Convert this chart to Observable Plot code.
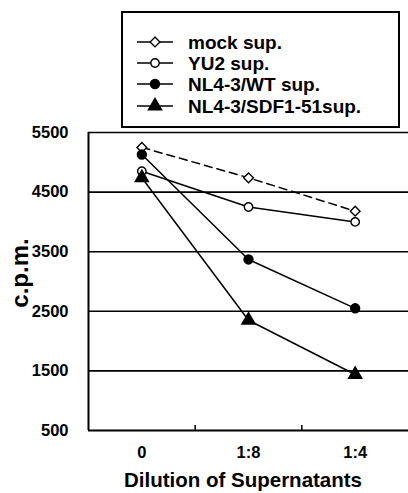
<!DOCTYPE html>
<html><head><meta charset="utf-8">
<script src="https://cdn.jsdelivr.net/npm/d3@7"></script>
<script src="https://cdn.jsdelivr.net/npm/@observablehq/plot@0.6"></script>
<style>
html,body{margin:0;padding:0;background:#fff;}
#wrap{position:relative;width:408px;height:493px;font-family:"Liberation Sans",Arial,sans-serif;}
#wrap svg{position:absolute;left:0;top:0;}
</style></head>
<body><div id="wrap"></div>
<script>
const dilutions = ["0", "1:8", "1:4"];
const seriesNames = ["mock sup.", "YU2 sup.", "NL4-3/WT sup.", "NL4-3/SDF1-51sup."];
const mockValues = [5250, 4740, 4180];
const yu2Values = [4850, 4250, 4000];
const wtValues = [5130, 3370, 2550];
const sdfValues = [4740, 2350, 1440];
const yTicks = [500, 1500, 2500, 3500, 4500, 5500];

const styles = [
  {symbol: "diamond2", fill: "white", r: 4.4, dash: "8,5"},
  {symbol: "circle", fill: "white", r: 4.2, dash: null},
  {symbol: "circle", fill: "black", r: 4.5, dash: null},
  {symbol: "triangle", fill: "black", r: 4.9, dash: null}
];
const allValues = [mockValues, yu2Values, wtValues, sdfValues];
const data = [];
allValues.forEach((vals, s) => vals.forEach((v, i) => data.push({series: s, name: seriesNames[s], pos: i + 0.5, value: v})));
const font = "Liberation Sans, Arial, sans-serif";

const marks = [
  Plot.gridY(yTicks.slice(1), {stroke: "black", strokeOpacity: 1, strokeWidth: 1.6}),
  Plot.ruleY([500], {stroke: "black", strokeWidth: 2}),
  Plot.ruleX([0], {stroke: "black", strokeWidth: 2}),
  Plot.axisY(yTicks, {tickSize: 0, tickPadding: 20, fontSize: 16.5, fontWeight: "bold", label: null, tickFormat: d3.format("d")}),
  Plot.axisX([1, 2], {tickSize: -5, tickFormat: () => "", stroke: "black", strokeWidth: 1.5, label: null}),
  Plot.text(dilutions, {x: (d, i) => i + 0.5, y: 500, dy: 22, text: d => d, fontSize: 16.5, fontWeight: "bold"}),
];
styles.forEach((st, s) => {
  const d = data.filter(p => p.series === s);
  marks.push(Plot.line(d, {x: "pos", y: "value", stroke: "black", strokeWidth: 1.5, strokeDasharray: st.dash}));
});
styles.forEach((st, s) => {
  const d = data.filter(p => p.series === s);
  marks.push(Plot.dot(d, {x: "pos", y: "value", symbol: () => st.symbol, r: st.r, fill: st.fill, stroke: "black", strokeWidth: 1.4}));
});

const chart = Plot.plot({
  width: 408, height: 493,
  marginLeft: 88, marginRight: 0, marginTop: 132, marginBottom: 63,
  style: {fontFamily: font, background: "white", color: "black"},
  x: {domain: [0, 3], axis: null},
  y: {domain: [500, 5500], axis: null},
  symbol: {type: "identity"},
  marks
});
document.getElementById("wrap").appendChild(chart);

// titles and legend overlay
const svg = d3.select("#wrap").append("svg").attr("width", 408).attr("height", 493)
  .style("font-family", font).style("pointer-events", "none");
svg.append("text").attr("x", 243).attr("y", 487).attr("text-anchor", "middle")
  .attr("font-size", 20.5).attr("font-weight", "bold").text("Dilution of Supernatants");
svg.append("text").attr("transform", "translate(28,273) rotate(-90)").attr("text-anchor", "middle")
  .attr("font-size", 24).attr("font-weight", "bold").text("c.p.m.");
svg.append("rect").attr("x", 122).attr("y", 12).attr("width", 277).attr("height", 115)
  .attr("fill", "white").attr("stroke", "black").attr("stroke-width", 2);
const symMap = {diamond2: d3.symbolDiamond2, circle: d3.symbolCircle, triangle: d3.symbolTriangle};
const rowY = [42, 63, 84, 106];
seriesNames.forEach((name, s) => {
  const st = styles[s];
  const y = rowY[s];
  svg.append("line").attr("x1", 137).attr("x2", 173).attr("y1", y).attr("y2", y).attr("stroke", "black").attr("stroke-width", 1.5);
  svg.append("path").attr("transform", `translate(155,${y})`)
    .attr("d", d3.symbol(symMap[st.symbol], Math.PI * st.r * st.r)())
    .attr("fill", st.fill).attr("stroke", "black").attr("stroke-width", 1.4);
  svg.append("text").attr("x", 188).attr("y", y).attr("dy", "0.35em")
    .attr("font-size", 19).attr("font-weight", "bold").text(name);
});
</script></body></html>
